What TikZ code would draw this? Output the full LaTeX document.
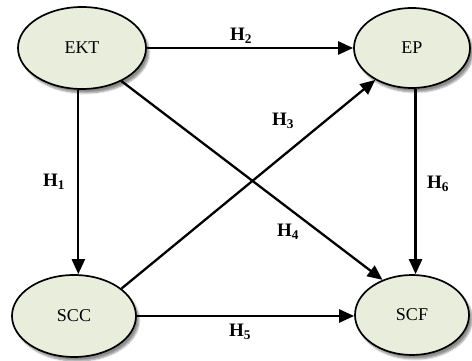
\documentclass[tikz,border=0pt]{standalone}
\usepackage{fontspec}
\setmainfont{Liberation Serif}
\usetikzlibrary{shapes.geometric,arrows.meta,shadows.blur}
\definecolor{nodefill}{RGB}{233,237,220}
\tikzset{
  construct/.style={ellipse, draw=black, line width=1.7pt, fill=nodefill,
    inner sep=0pt, font=\fontsize{18}{18}\selectfont,
    blur shadow={shadow xshift=3pt, shadow yshift=-4pt, shadow blur steps=6, shadow opacity=45}},
  path/.style={line width=2.3pt, -{Triangle[length=15pt,width=13pt]}},
  hlabel/.style={font=\fontsize{19}{19}\selectfont\bfseries, inner sep=0pt}
}
\begin{document}
\begin{tikzpicture}[x=1pt,y=1pt]
\useasboundingbox (0,0) rectangle (472,361);
\node[construct, minimum width=128pt, minimum height=82pt] (EKT) at (82,313) {EKT};
\node[construct, minimum width=116pt, minimum height=80pt] (EP) at (412,313) {EP};
\node[construct, minimum width=124pt, minimum height=82pt] (SCC) at (74,45) {SCC};
\node[construct, minimum width=114pt, minimum height=80pt] (SCF) at (412,46) {SCF};
\draw[path] (EKT.east) -- (EP.west);
\draw[path] (EKT.265) -- (EKT.265 |- SCC.north);
\draw[path] (EP.275) -- (EP.275 |- SCF.north);
\draw[path] (SCC.east) -- (SCC.east -| SCF.west);
\draw[path] (SCC.30) -- (EP.221);
\draw[path] (EKT.320) -- (SCF.130);
\node[hlabel] (h2) at (241,325) {H\textsubscript{2}};
\node[hlabel] (h1) at (54,179) {H\textsubscript{1}};
\node[hlabel] (h6) at (438,177) {H\textsubscript{6}};
\node[hlabel] (h5) at (240,29) {H\textsubscript{5}};
\node[hlabel] (h3) at (283,240) {H\textsubscript{3}};
\node[hlabel] (h4) at (288,129) {H\textsubscript{4}};
\end{tikzpicture}
\end{document}
